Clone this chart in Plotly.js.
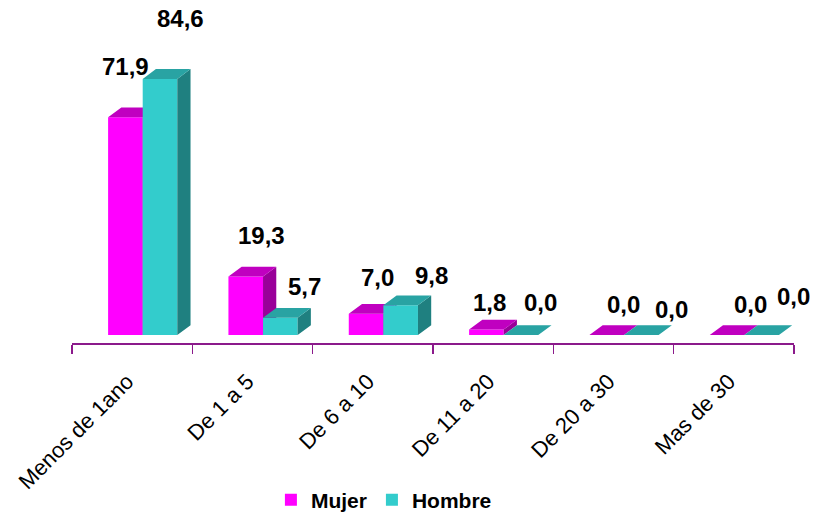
<!DOCTYPE html>
<html>
<head>
<meta charset="utf-8">
<script src="https://cdn.plot.ly/plotly-3.0.1.min.js"></script>
<style>html,body{margin:0;padding:0;background:#fff;}#chart{width:816px;height:516px;}</style>
</head>
<body>
<div id="chart"></div>
<script>
// ---- data ----
const categories = ["Menos de 1ano", "De 1 a 5", "De 6 a 10", "De 11 a 20", "De 20 a 30", "Mas de 30"];
const mujer  = [71.9, 19.3, 7.0, 1.8, 0.0, 0.0];
const hombre = [84.6, 5.7, 9.8, 0.0, 0.0, 0.0];
const seriesNames = ["Mujer", "Hombre"];

// ---- label placement nudges (pixels) ----
const mujerLabelDx = [0, 16, 11, 3, 17, 23];
const mujerLabelDy = [51, 41, 36, 27, 31, 31];
const hombreLabelDx = [21, 24, 31, 20, 30, 32];
const hombreLabelDy = [60, 31, 30, 33, 26, 39];

// ---- geometry / style ----
const W = 0.2875;       // bar width (category units)
const DX = 0.11;        // depth in x (category units)
const DY = 3.24;        // depth in y (value units)
const YMIN = -2.643, YMAX = 104.06;
const FONT = "Liberation Sans, Arial, sans-serif";

const styles = [
  {offset: -0.2,   front: "#FF00FF", top: "#C000C0", side: "#990099", xa: "x",  ya: "y",
   dx: mujerLabelDx, dy: mujerLabelDy},
  {offset: 0.0875, front: "#33CCCC", top: "#29A3A3", side: "#1F8080", xa: "x2", ya: "y2",
   dx: hombreLabelDx, dy: hombreLabelDy}
];
const values = [mujer, hombre];
const idx = categories.map((_, i) => i);

const traces = [];
const annotations = [];
values.forEach((vals, s) => {
  const st = styles[s];
  traces.push({
    type: "bar", name: seriesNames[s], x: idx, y: vals, base: 0,
    width: W, offset: st.offset, xaxis: st.xa, yaxis: st.ya,
    marker: {color: st.front, line: {width: 0}}, hoverinfo: "skip", showlegend: true
  });
  const tx = [], ty = [], sx = [], sy = [];
  vals.forEach((v, i) => {
    const x0 = i + st.offset, x1 = x0 + W;
    tx.push(x0, x1, x1 + DX, x0 + DX, x0, null);
    ty.push(v, v, v + DY, v + DY, v, null);
    sx.push(x1, x1 + DX, x1 + DX, x1, x1, null);
    sy.push(0, DY, v + DY, v, 0, null);
    annotations.push({
      xref: st.xa, yref: st.ya, x: x0 + W / 2, y: v,
      text: v.toFixed(1).replace(".", ","), showarrow: false,
      xanchor: "center", yanchor: "middle",
      xshift: st.dx[i], yshift: st.dy[i],
      font: {family: FONT, size: 24, color: "#000", weight: "bold"}
    });
  });
  traces.push({
    type: "scatter", mode: "lines", x: sx, y: sy, fill: "toself", fillcolor: st.side,
    line: {width: 0, color: st.side}, xaxis: st.xa, yaxis: st.ya,
    hoverinfo: "skip", showlegend: false
  });
  traces.push({
    type: "scatter", mode: "lines", x: tx, y: ty, fill: "toself", fillcolor: st.top,
    line: {width: 0, color: st.top}, xaxis: st.xa, yaxis: st.ya,
    hoverinfo: "skip", showlegend: false
  });
});

const boundaries = categories.map((_, i) => i - 0.5).concat([categories.length - 0.5]);

const layout = {
  width: 816, height: 516,
  margin: {l: 72, r: 22, t: 20, b: 173, autoexpand: false},
  paper_bgcolor: "#fff", plot_bgcolor: "rgba(0,0,0,0)",
  barmode: "overlay",
  font: {family: FONT, color: "#000"},
  xaxis: {
    range: [-0.5, 5.5], tickvals: idx, ticktext: categories, ticks: "",
    tickangle: -45, tickfont: {family: FONT, size: 22, color: "#000"},
    ticklabelstandoff: 15, ticklabelshift: -5,
    showline: true, linecolor: "#8B1A8B", linewidth: 2,
    showgrid: false, zeroline: false, fixedrange: true, automargin: false,
    minor: {tickvals: boundaries, ticks: "outside", ticklen: 9, tickwidth: 1.5, tickcolor: "#8B1A8B", showgrid: false}
  },
  yaxis: {range: [YMIN, YMAX], visible: false, fixedrange: true},
  xaxis2: {range: [-0.5, 5.5], overlaying: "x", anchor: "y2", visible: false, fixedrange: true},
  yaxis2: {range: [YMIN, YMAX], overlaying: "y", anchor: "x2", visible: false, fixedrange: true},
  showlegend: true,
  legend: {
    orientation: "h", x: 0.2755, y: -0.486, xanchor: "left", yanchor: "middle",
    font: {family: FONT, size: 21, color: "#000", weight: "bold"},
    itemwidth: 30, tracegroupgap: 0, bgcolor: "rgba(0,0,0,0)"
  },
  annotations: annotations
};

Plotly.newPlot("chart", traces, layout, {displayModeBar: false, staticPlot: true});
</script>
</body>
</html>
